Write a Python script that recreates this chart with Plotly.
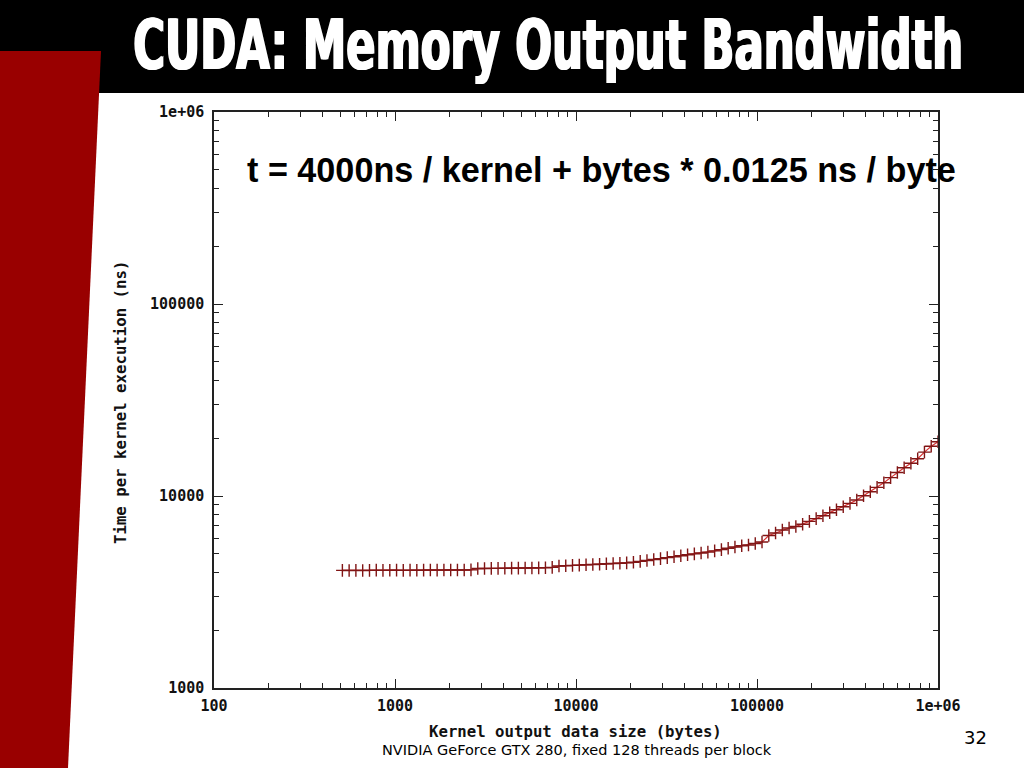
import plotly.graph_objects as go

# ---- data ----
bytes_out = [512, 558, 608, 663, 723, 788, 858, 936, 1020, 1111, 1211, 1320, 1439, 1568,
             1709, 1863, 2031, 2213, 2412, 2629, 2866, 3123, 3404, 3710, 4044, 4408, 4804,
             5236, 5707, 6220, 6779, 7389, 8053, 8777, 9566, 10426, 11364, 12386, 13500,
             14714, 16037, 17479, 19051, 20764, 22631, 24666, 26884, 29301, 31935, 34807,
             37936, 41347, 45064, 49117, 53533, 58345, 63591, 69310, 75540, 82333, 89735,
             97806, 106598, 116184, 126628, 138015, 150423, 163951, 178690, 194757, 212266,
             231353, 252152, 274825, 299530, 326466, 355814, 387809, 422673, 460679, 502093,
             547239, 596434, 650066, 708507, 772213, 841632, 917311, 1000000]
time_ns = [4100, 4090, 4100, 4095, 4100, 4110, 4100, 4105, 4110, 4100, 4110, 4105, 4110, 4115,
           4110, 4115, 4120, 4115, 4120, 4125,
           4190, 4195, 4200, 4200, 4205, 4210, 4210, 4215, 4220, 4225, 4230, 4250, 4320,
           4330, 4350, 4365, 4382, 4397, 4413, 4435, 4452, 4468, 4483, 4515, 4564, 4614, 4670, 4721,
           4778, 4830, 4882, 4941, 4995, 5049, 5104, 5178, 5259, 5342, 5426, 5503,
           5557, 5656, 5758, 6227, 6417, 6651, 6813, 6936,
           7130, 7375, 7627, 7897, 8177, 8476, 8786, 9152, 9533, 10023, 10517, 11086, 11730,
           12467, 13260, 14045, 14820, 15645, 16930, 18170, 19180]

x_tickvals = [100, 1000, 10000, 100000, 1000000]
x_ticktext = ["100", "1000", "10000", "100000", "1e+06"]
y_tickvals = [1000, 10000, 100000, 1000000]
y_ticktext = ["1000", "10000", "100000", "1e+06"]

title_text = "CUDA: Memory Output Bandwidth"
formula_text = "t = 4000ns / kernel + bytes * 0.0125 ns / byte"
x_title = "Kernel output data size (bytes)"
y_title = "Time per kernel execution (ns)"
footer_text = "NVIDIA GeForce GTX 280, fixed 128 threads per block"
page_number = "32"

# ---- layout geometry (pixels) ----
W, H = 1024, 768
L, R, T, B = 214, 938, 112, 688
PW, PH = R - L, B - T
TITLE_WIDTH = 830


def fx(p):
    return (p - L) / PW


def fy(p):
    return (B - p) / PH


mono = "DejaVu Sans Mono, Liberation Mono, monospace"
axis_font = dict(family=mono, size=15, color="#111111", weight="bold")
title_axis_font = dict(family=mono, size=15.7, color="#111111", weight="bold")

fig = go.Figure()
fig.add_trace(go.Scatter(
    x=bytes_out, y=time_ns, mode="lines+markers",
    line=dict(color="#d83030", width=1.2),
    marker=dict(symbol="cross-thin", size=9, line=dict(color="#801515", width=1.4)),
    showlegend=False, hoverinfo="skip",
))

axis_common = dict(
    type="log", showgrid=False, zeroline=False, showline=True, mirror="ticks",
    linecolor="#222222", linewidth=1.5, ticks="inside", ticklen=9, tickwidth=1,
    tickcolor="#222222", tickfont=axis_font,
    minor=dict(ticks="inside", ticklen=5, tickwidth=1, tickcolor="#222222",
               dtick="D1", showgrid=False),
)
fig.update_xaxes(range=[2, 6], tickvals=x_tickvals, ticktext=x_ticktext,
                 ticklabelstandoff=3, **axis_common)
fig.update_yaxes(range=[3, 6], tickvals=y_tickvals, ticktext=y_ticktext,
                 ticklabelstandoff=5, **axis_common)

shapes = [
    dict(type="rect", xref="paper", yref="paper", x0=fx(0), x1=fx(W), y0=fy(93), y1=fy(0),
         fillcolor="#000000", line=dict(width=0), layer="below"),
    dict(type="path", xref="paper", yref="paper",
         path=f"M {fx(0)},{fy(51)} L {fx(101)},{fy(51)} L {fx(68)},{fy(H)} L {fx(0)},{fy(H)} Z",
         fillcolor="#990000", line=dict(width=0), layer="below"),
]

annotations = [
    dict(text=title_text, x=fx(548), y=fy(45), xref="paper", yref="paper",
         showarrow=False, xanchor="center", yanchor="middle",
         font=dict(family="DejaVu Sans, sans-serif", size=70, color="#ffffff", weight="bold",
                   shadow="1.5px 0px 0px #ffffff, -1px 0px 0px #ffffff")),
    dict(text=formula_text, x=fx(601), y=fy(170), xref="paper", yref="paper",
         showarrow=False, xanchor="center", yanchor="middle",
         font=dict(family="Liberation Sans, Arial, sans-serif", size=34.2, color="#000000",
                   weight="bold")),
    dict(text=x_title, x=fx(575), y=fy(731), xref="paper", yref="paper",
         showarrow=False, xanchor="center", yanchor="middle", font=title_axis_font),
    dict(text=y_title, x=fx(121), y=fy(403), xref="paper", yref="paper", textangle=-90,
         showarrow=False, xanchor="center", yanchor="middle", font=title_axis_font),
    dict(text=footer_text, x=fx(577), y=fy(750), xref="paper", yref="paper",
         showarrow=False, xanchor="center", yanchor="middle",
         font=dict(family="DejaVu Sans, Verdana, sans-serif", size=14.5, color="#000000")),
    dict(text=page_number, x=fx(975), y=fy(737), xref="paper", yref="paper",
         showarrow=False, xanchor="center", yanchor="middle",
         font=dict(family="DejaVu Sans, Verdana, sans-serif", size=18, color="#000000")),
]

fig.update_layout(
    width=W, height=H, autosize=False,
    margin=dict(l=L, r=W - R, t=T, b=H - B, pad=0),
    paper_bgcolor="#ffffff", plot_bgcolor="#ffffff",
    shapes=shapes, annotations=annotations,
)

# remove the browser's default page margin and condense the slide title horizontally
post_js = """
document.documentElement.style.margin='0';
document.body.style.margin='0';
document.body.style.padding='0';
var gd = document.getElementById('{plot_id}');
gd.querySelectorAll('.annotation-text').forEach(function(t){
  if (t.textContent === %s) {
    var bb = t.getBBox();
    var s = %d / bb.width;
    var cx = bb.x + bb.width / 2;
    t.setAttribute('transform', 'translate(' + cx + ',0) scale(' + s + ',1) translate(' + (-cx) + ',0)');
  }
});
""" % ("'" + title_text + "'", TITLE_WIDTH)

fig.write_html("out.html", include_plotlyjs=True, config={"displayModeBar": False},
               post_script=post_js)
